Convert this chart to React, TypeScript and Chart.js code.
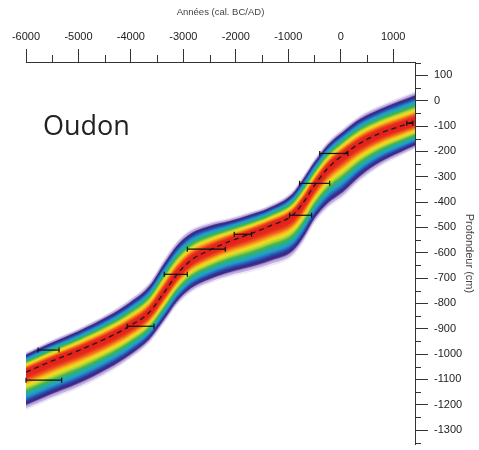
import React, { useEffect, useRef } from 'react';
import { Chart, registerables } from 'chart.js';

Chart.register(...registerables);

// Median age-depth curve (calendar year BC/AD, depth in cm)
const centerYear = [-6000, -5560, -4990, -4420, -4030, -3650, -3365, -3120, -2850, -2505, -2120, -1740, -1360, -920, -725, -500, -250, 40, 365, 745, 1130, 1416];
const centerDepth = [-1071, -1032, -985, -933, -890, -835, -756, -685, -629, -590, -555, -527, -495, -452, -405, -334, -267, -215, -168, -129, -101, -81];
// Envelope half-widths (cm) above and below the median
const bandUp = [71, 75, 79, 87, 95, 106, 118, 118, 110, 99, 83, 79, 75, 87, 95, 95, 95, 95, 99, 99, 103, 106];
const bandLow = [134, 134, 134, 126, 118, 110, 110, 110, 114, 118, 126, 134, 142, 146, 142, 134, 142, 150, 134, 118, 106, 99];

// Dated samples: depth and calibrated age range
const errDepth = [-984, -1103, -890, -685, -586, -527, -452, -326, -208, -89];
const errLo = [-5770, -6000, -4070, -3365, -2925, -2030, -975, -785, -400, 1260];
const errHi = [-5370, -5320, -3560, -2925, -2200, -1700, -555, -210, 135, 1375];

const xTicks = [-6000, -5000, -4000, -3000, -2000, -1000, 0, 1000];
const xMinorTicks = [-5500, -4500, -3500, -2500, -1500, -500, 500];
const yTicks = [100, 0, -100, -200, -300, -400, -500, -600, -700, -800, -900, -1000, -1100, -1200, -1300];
const yMinorTicks = [150, 50, -50, -150, -250, -350, -450, -550, -650, -750, -850, -950, -1050, -1150, -1250, -1350];

const siteName = 'Oudon';
const xTitle = 'Années (cal. BC/AD)';
const yTitle = 'Profondeur (cm)';

// colour ramp from the median (0) to the envelope edge (1)
const bandStops: [number, string][] = [
  [0.0, '#e01e1c'],
  [0.17, '#e62a1c'],
  [0.26, '#f0601e'],
  [0.33, '#f6a41e'],
  [0.41, '#f4df1c'],
  [0.49, '#b4d43a'],
  [0.57, '#44b44a'],
  [0.66, '#22ad9c'],
  [0.74, '#229dd2'],
  [0.82, '#2a62bb'],
  [0.88, '#2b3994'],
  [0.94, '#3d2683'],
  [0.98, '#5d3c9a'],
  [1.0, '#a58fcf'],
];

function hexToRgb(h: string) {
  const n = parseInt(h.slice(1), 16);
  return [(n >> 16) & 255, (n >> 8) & 255, n & 255];
}
function rampColor(f: number) {
  for (let i = 1; i < bandStops.length; i++) {
    const [f1, c1] = bandStops[i];
    const [f0, c0] = bandStops[i - 1];
    if (f <= f1) {
      const t = (f - f0) / (f1 - f0 || 1);
      const a = hexToRgb(c0), b = hexToRgb(c1);
      const m = a.map((v, k) => Math.round(v + (b[k] - v) * t));
      return `rgb(${m[0]},${m[1]},${m[2]})`;
    }
  }
  return bandStops[bandStops.length - 1][1];
}

const FONT = 'Liberation Sans, Arial, sans-serif';

export default function App() {
  const ref = useRef<HTMLCanvasElement | null>(null);

  useEffect(() => {
    if (!ref.current) return;
    const datasets: any[] = [];
    const layers: { f: number; color: string }[] = [
      { f: 1.12, color: 'rgba(205,190,232,0.35)' },
      { f: 1.06, color: 'rgba(165,140,210,0.6)' },
    ];
    const N = 30;
    for (let i = N; i >= 1; i--) {
      const f = i / N;
      layers.push({ f, color: rampColor(f) });
    }
    let order = 1000;
    layers.forEach(({ f, color }) => {
      datasets.push({
        data: centerYear.map((x, i) => ({ x, y: centerDepth[i] + bandUp[i] * f })),
        fill: '+1',
        backgroundColor: color,
        borderColor: 'rgba(0,0,0,0)',
        borderWidth: 0,
        pointRadius: 0,
        cubicInterpolationMode: 'monotone',
        order,
      });
      datasets.push({
        data: centerYear.map((x, i) => ({ x, y: centerDepth[i] - bandLow[i] * f })),
        fill: false,
        borderColor: 'rgba(0,0,0,0)',
        borderWidth: 0,
        pointRadius: 0,
        cubicInterpolationMode: 'monotone',
        order,
      });
      order -= 1;
    });
    datasets.push({
      data: centerYear.map((x, i) => ({ x, y: centerDepth[i] })),
      fill: false,
      borderColor: '#1a1a1a',
      borderWidth: 1.3,
      borderDash: [5, 4],
      pointRadius: 0,
      cubicInterpolationMode: 'monotone',
      order: 1,
    });
    errDepth.forEach((d, i) => {
      datasets.push({
        data: [{ x: errLo[i], y: d }, { x: errHi[i], y: d }],
        fill: false,
        borderColor: '#111',
        borderWidth: 1.2,
        pointStyle: 'line',
        rotation: 90,
        pointRadius: 2.5,
        pointBorderWidth: 1.2,
        pointBorderColor: '#111',
        tension: 0,
        order: 0,
        clip: false,
      });
    });

    const extras = {
      id: 'extras',
      afterDraw(chart: any) {
        const { ctx, chartArea, scales } = chart;
        ctx.save();
        ctx.strokeStyle = '#333';
        ctx.lineWidth = 1;
        ctx.beginPath();
        xMinorTicks.forEach((v) => {
          const px = Math.round(scales.x.getPixelForValue(v)) + 0.5;
          ctx.moveTo(px, chartArea.top);
          ctx.lineTo(px, chartArea.top - 7);
        });
        yMinorTicks.forEach((v) => {
          if (v > scales.y.max || v < scales.y.min) return;
          const py = Math.round(scales.y.getPixelForValue(v)) + 0.5;
          ctx.moveTo(chartArea.right, py);
          ctx.lineTo(chartArea.right + 6, py);
        });
        ctx.stroke();
        ctx.fillStyle = '#222';
        ctx.font = '27px "Open Sans", sans-serif';
        ctx.textBaseline = 'alphabetic';
        ctx.textAlign = 'left';
        ctx.fillText(siteName, 43, 135);
        ctx.restore();
      },
    };

    const chart = new Chart(ref.current, {
      type: 'line',
      data: { datasets },
      options: {
        animation: false,
        responsive: false,
        events: [],
        layout: { padding: { left: 26, right: 0, top: 0, bottom: 0 } },
        plugins: { legend: { display: false }, tooltip: { enabled: false }, filler: { propagate: false } },
        scales: {
          x: {
            type: 'linear',
            position: 'top',
            min: -6000,
            max: 1416,
            afterBuildTicks: (s: any) => {
              s.ticks = xTicks.map((value) => ({ value }));
            },
            afterFit: (s: any) => {
              s.height = 62;
              s.paddingLeft = 0;
              s.paddingRight = 0;
              s.paddingTop = 0;
              s.paddingBottom = 0;
            },
            grid: { display: true, drawOnChartArea: false, drawTicks: true, tickLength: 13, tickColor: '#333', tickWidth: 1 },
            border: { display: true, color: '#333', width: 1 },
            ticks: {
              color: '#222',
              font: { family: FONT, size: 11 },
              padding: 5,
              maxRotation: 0,
              autoSkip: false,
              callback: (v: any) => String(v),
            },
            title: { display: true, text: xTitle, color: '#444', font: { family: FONT, size: 9.5 }, padding: { top: 7, bottom: 0 } },
          },
          y: {
            type: 'linear',
            position: 'right',
            min: -1358,
            max: 153,
            afterBuildTicks: (s: any) => {
              s.ticks = yTicks.map((value) => ({ value }));
            },
            afterFit: (s: any) => {
              s.width = 64;
              s.paddingTop = 0;
              s.paddingBottom = 0;
              s.paddingLeft = 0;
              s.paddingRight = 0;
            },
            grid: { display: true, drawOnChartArea: false, drawTicks: true, tickLength: 13, tickColor: '#333', tickWidth: 1 },
            border: { display: true, color: '#333', width: 1 },
            ticks: {
              color: '#222',
              font: { family: FONT, size: 11 },
              padding: 6,
              autoSkip: false,
              callback: (v: any) => String(v),
            },
            title: { display: true, text: yTitle, color: '#444', font: { family: FONT, size: 11 }, padding: { top: 3, bottom: 0 } },
          },
        },
      } as any,
      plugins: [extras],
    });
    return () => chart.destroy();
  }, []);

  return (
    <div style={{ position: 'absolute', left: 0, top: 0, width: 479, height: 450, background: '#fff' }}>
      <canvas ref={ref} width={479} height={450} style={{ display: 'block' }} />
    </div>
  );
}
